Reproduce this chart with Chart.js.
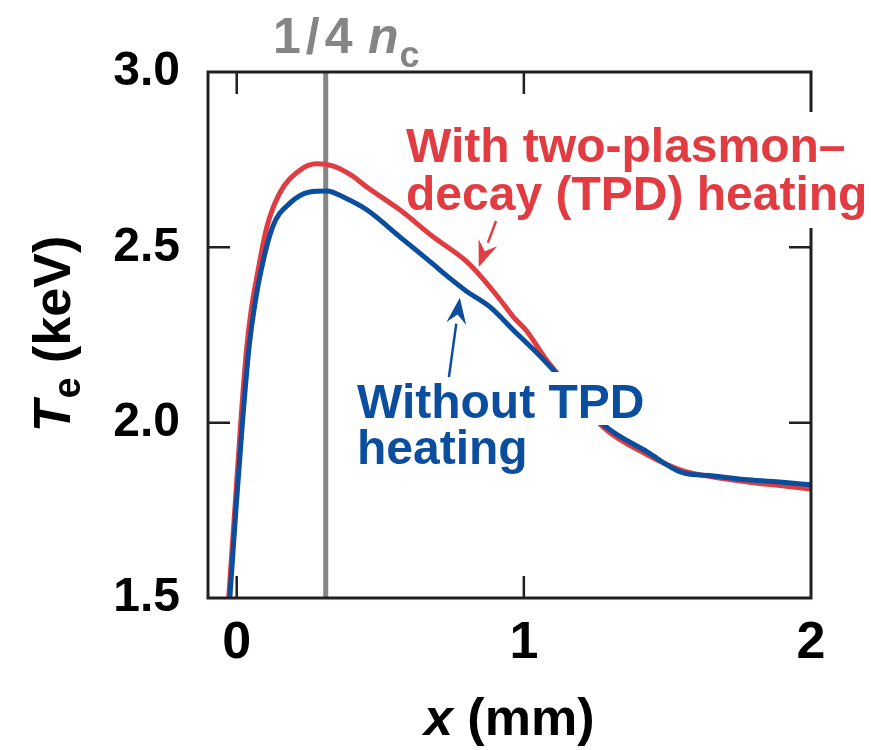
<!DOCTYPE html>
<html>
<head>
<meta charset="utf-8">
<script src="https://cdn.jsdelivr.net/npm/chart.js@4.4.1/dist/chart.umd.min.js"></script>
<style>
  html, body { margin: 0; padding: 0; background: #fff; }
  #wrap { width: 871px; height: 750px; }
</style>
</head>
<body>
<div id="wrap"><canvas id="chart" width="871" height="750"></canvas></div>
<script>
// x in mm, Te in keV
const xWithTpd = [-0.028, -0.006, 0.014, 0.034, 0.052, 0.070, 0.105, 0.150, 0.220, 0.279, 0.334, 0.400, 0.453, 0.568, 0.684, 0.800, 0.847, 0.916, 0.963, 1.009, 1.079, 1.180, 1.279, 1.431, 1.547, 1.660, 1.780, 1.900, 2.000];
const teWithTpd = [1.50, 1.76, 2.00, 2.207, 2.33, 2.415, 2.558, 2.655, 2.720, 2.738, 2.732, 2.705, 2.672, 2.607, 2.530, 2.460, 2.420, 2.352, 2.302, 2.262, 2.179, 2.08, 1.985, 1.908, 1.865, 1.845, 1.831, 1.820, 1.811];

const xNoTpd = [-0.024, -0.002, 0.020, 0.042, 0.060, 0.080, 0.125, 0.185, 0.254, 0.314, 0.380, 0.453, 0.568, 0.684, 0.730, 0.800, 0.882, 0.963, 1.056, 1.170, 1.279, 1.431, 1.547, 1.660, 1.780, 1.900, 2.000];
const teNoTpd = [1.50, 1.76, 2.00, 2.207, 2.32, 2.415, 2.558, 2.626, 2.658, 2.661, 2.640, 2.607, 2.530, 2.452, 2.420, 2.375, 2.330, 2.264, 2.190, 2.09, 1.993, 1.916, 1.859, 1.848, 1.837, 1.830, 1.823];

const quarterCriticalX = 0.31;
const xTickValues = [0, 1, 2];
const yTickValues = [1.5, 2.0, 2.5, 3.0];

// arrows: [fromX, fromTe, toX, toTe]
const redArrow = [0.903, 2.575, 0.843, 2.444];
const blueArrow = [0.739, 2.130, 0.777, 2.356];

const RED = "#e03c42";
const BLUE = "#0b4e9e";
const GRAY = "#858585";
const INK = "#231f20";
const FONT = '"Liberation Sans", Arial, Helvetica, sans-serif';

function toPoints(xs, ys) {
  return xs.map(function (x, i) { return { x: x, y: ys[i] }; });
}

function drawArrow(ctx, chart, a, color) {
  const xs = chart.scales.x, ys = chart.scales.y;
  const x0 = xs.getPixelForValue(a[0]), y0 = ys.getPixelForValue(a[1]);
  const x1 = xs.getPixelForValue(a[2]), y1 = ys.getPixelForValue(a[3]);
  const ang = Math.atan2(y1 - y0, x1 - x0);
  const headLen = 26, headHalf = 10;
  const bx = x1 - headLen * Math.cos(ang), by = y1 - headLen * Math.sin(ang);
  ctx.save();
  ctx.strokeStyle = color;
  ctx.fillStyle = color;
  ctx.lineWidth = 2.5;
  ctx.beginPath();
  ctx.moveTo(x0, y0);
  ctx.lineTo(bx, by);
  ctx.stroke();
  ctx.beginPath();
  ctx.moveTo(x1, y1);
  ctx.lineTo(bx + headHalf * Math.sin(ang), by - headHalf * Math.cos(ang));
  ctx.lineTo(bx + 0.35 * headLen * Math.cos(ang), by + 0.35 * headLen * Math.sin(ang));
  ctx.lineTo(bx - headHalf * Math.sin(ang), by + headHalf * Math.cos(ang));
  ctx.closePath();
  ctx.fill();
  ctx.restore();
}

const framePlugin = {
  id: "frame",
  afterDraw: function (chart) {
    const ctx = chart.ctx;
    const a = chart.chartArea;
    const xs = chart.scales.x, ys = chart.scales.y;

    // box and inward ticks
    ctx.save();
    ctx.strokeStyle = INK;
    ctx.lineWidth = 3;
    ctx.strokeRect(a.left, a.top, a.right - a.left, a.bottom - a.top);
    ctx.lineWidth = 2.5;
    const tickLen = 22;
    yTickValues.forEach(function (v) {
      const py = ys.getPixelForValue(v);
      if (py <= a.top + 2 || py >= a.bottom - 2) return;
      ctx.beginPath();
      ctx.moveTo(a.left, py); ctx.lineTo(a.left + tickLen, py);
      ctx.moveTo(a.right, py); ctx.lineTo(a.right - tickLen, py);
      ctx.stroke();
    });
    xTickValues.forEach(function (v) {
      const px = xs.getPixelForValue(v);
      if (px <= a.left + 2 || px >= a.right - 2) return;
      ctx.beginPath();
      ctx.moveTo(px, a.bottom); ctx.lineTo(px, a.bottom - tickLen);
      ctx.moveTo(px, a.top); ctx.lineTo(px, a.top + tickLen);
      ctx.stroke();
    });
    ctx.restore();

    ctx.save();
    ctx.textBaseline = "alphabetic";

    // red label with white knockout across the frame
    ctx.font = "bold 48px " + FONT;
    ctx.fillStyle = "#fff";
    ctx.fillRect(790, 112, 80, 116);
    ctx.fillStyle = RED;
    ctx.fillText("With two-plasmon\u2013", 406, 162);
    ctx.fillText("decay (TPD) heating", 406, 210);

    // blue label with white knockout over the curves
    ctx.font = "bold 48px " + FONT;
    const wNo = ctx.measureText("Without TPD").width;
    ctx.fillStyle = "#fff";
    ctx.fillRect(352, 372, wNo + 14, 53);
    ctx.fillStyle = BLUE;
    ctx.fillText("Without TPD", 357, 418);
    ctx.fillText("heating", 357, 464);

    // 1/4 n_c label
    ctx.fillStyle = GRAY;
    ctx.font = "bold 50px " + FONT;
    ctx.letterSpacing = "5px";
    ctx.fillText("1/4", 273, 53);
    ctx.letterSpacing = "0px";
    ctx.font = "italic bold 50px " + FONT;
    ctx.fillText("n", 368, 53);
    const wn = ctx.measureText("n").width;
    ctx.font = "bold 36px " + FONT;
    ctx.fillText("c", 368 + wn + 1, 67);

    // x axis title
    ctx.fillStyle = "#000";
    ctx.font = "italic bold 52px " + FONT;
    ctx.fillText("x", 424, 735);
    const wx = ctx.measureText("x").width;
    ctx.font = "bold 52px " + FONT;
    ctx.fillText(" (mm)", 424 + wx, 735);

    // y axis title, rotated
    ctx.translate(70, 334);
    ctx.rotate(-Math.PI / 2);
    ctx.font = "italic bold 52px " + FONT;
    const wT = ctx.measureText("T").width;
    ctx.font = "bold 38px " + FONT;
    const we = ctx.measureText("e").width;
    ctx.font = "bold 52px " + FONT;
    const wRest = ctx.measureText(" (keV)").width;
    let cx = -(wT + we + 2 + wRest) / 2;
    ctx.font = "italic bold 52px " + FONT;
    ctx.fillText("T", cx, 0);
    cx += wT + 2;
    ctx.font = "bold 38px " + FONT;
    ctx.fillText("e", cx, 10);
    cx += we;
    ctx.font = "bold 52px " + FONT;
    ctx.fillText(" (keV)", cx, 0);
    ctx.restore();

    drawArrow(ctx, chart, redArrow, RED);
    drawArrow(ctx, chart, blueArrow, BLUE);
  }
};

new Chart(document.getElementById("chart").getContext("2d"), {
  type: "line",
  data: {
    datasets: [
      {
        label: "Without TPD heating",
        data: toPoints(xNoTpd, teNoTpd),
        borderColor: BLUE,
        borderWidth: 5,
        pointRadius: 0,
        cubicInterpolationMode: "monotone",
        fill: false
      },
      {
        label: "With TPD heating",
        data: toPoints(xWithTpd, teWithTpd),
        borderColor: RED,
        borderWidth: 5,
        pointRadius: 0,
        cubicInterpolationMode: "monotone",
        fill: false
      },
      {
        label: "1/4 nc",
        data: [{ x: quarterCriticalX, y: yTickValues[0] }, { x: quarterCriticalX, y: yTickValues[yTickValues.length - 1] }],
        borderColor: GRAY,
        borderWidth: 5,
        pointRadius: 0,
        fill: false
      }
    ]
  },
  options: {
    responsive: false,
    animation: false,
    devicePixelRatio: 1,
    layout: { padding: { top: 72, right: 60, left: 0, bottom: 0 } },
    plugins: {
      legend: { display: false },
      tooltip: { enabled: false }
    },
    scales: {
      x: {
        type: "linear",
        min: -0.1,
        max: 2.0,
        grid: { display: false, drawTicks: false },
        border: { display: false },
        afterBuildTicks: function (scale) {
          scale.ticks = xTickValues.map(function (v) { return { value: v }; });
        },
        afterFit: function (scale) { scale.height = 152; },
        ticks: {
          color: "#000",
          padding: 14,
          maxRotation: 0,
          font: { family: FONT, size: 52, weight: "bold" },
          callback: function (v) { return String(v); }
        }
      },
      y: {
        type: "linear",
        min: 1.5,
        max: 3.0,
        grid: { display: false, drawTicks: false },
        border: { display: false },
        afterBuildTicks: function (scale) {
          scale.ticks = yTickValues.map(function (v) { return { value: v }; });
        },
        afterFit: function (scale) { scale.width = 208; },
        ticks: {
          color: "#000",
          padding: 28,
          font: { family: FONT, size: 48, weight: "bold" },
          callback: function (v) { return v.toFixed(1); }
        }
      }
    }
  },
  plugins: [framePlugin]
});
</script>
</body>
</html>
